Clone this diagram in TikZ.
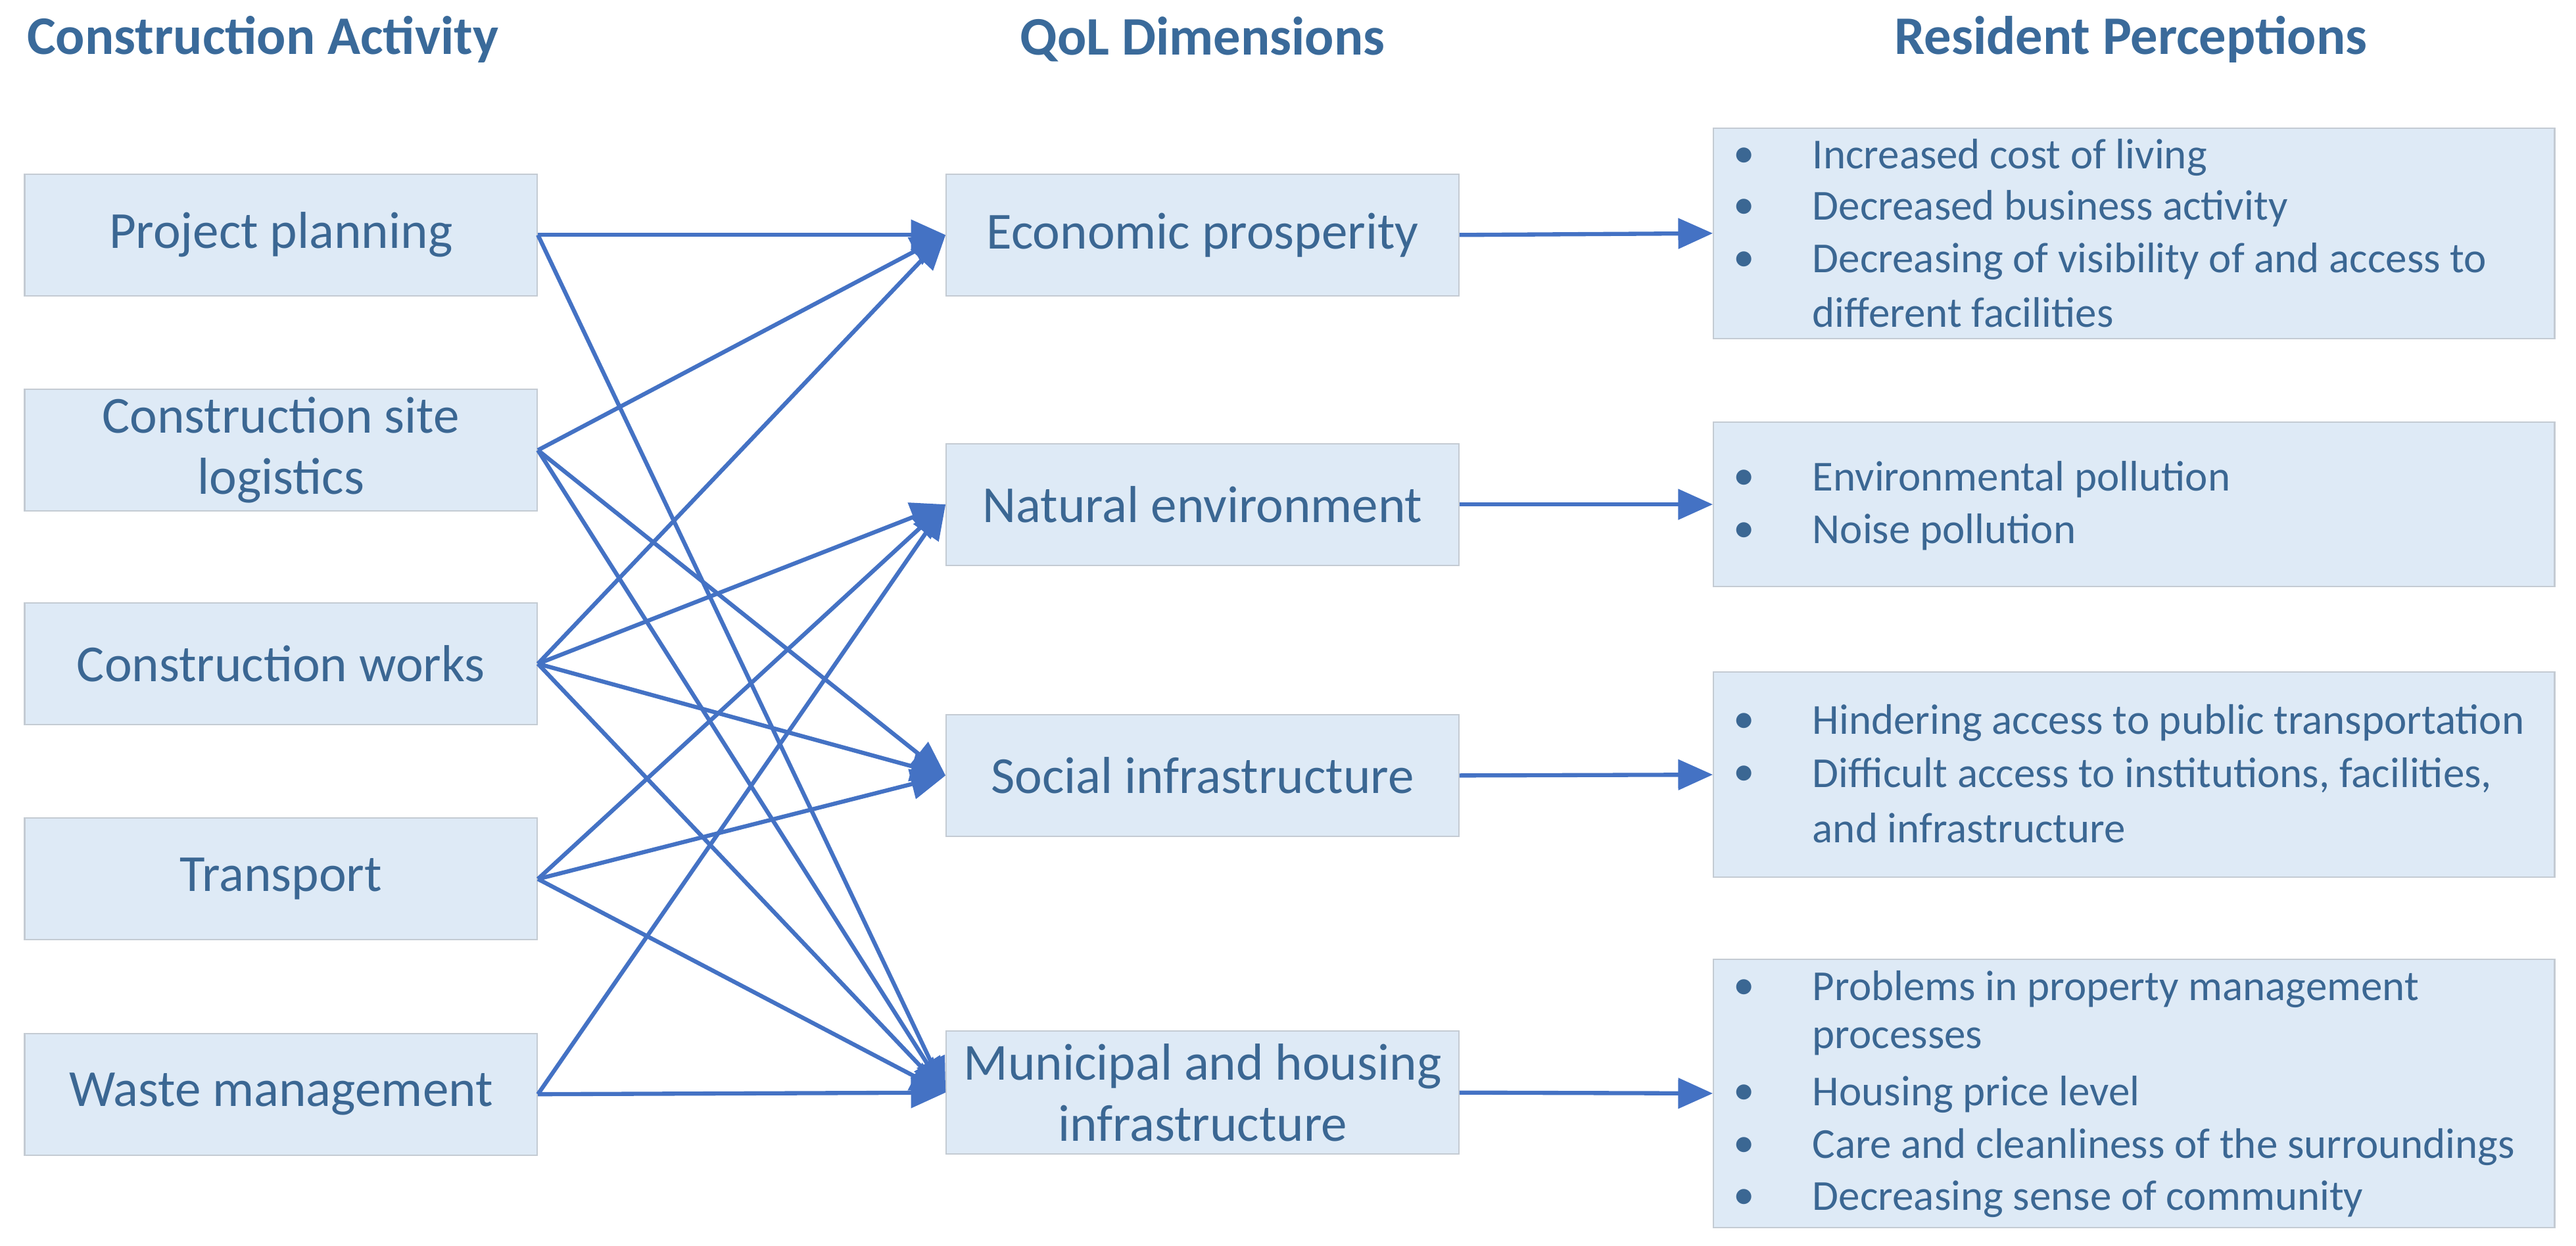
\documentclass[tikz,border=0pt]{standalone}
\usepackage{fontspec}
\setmainfont{Carlito}
\usetikzlibrary{arrows.meta}
\definecolor{boxfill}{HTML}{DEEAF6}
\definecolor{boxline}{HTML}{C4CBD3}
\definecolor{txt}{HTML}{3B6793}
\definecolor{ttl}{HTML}{3A6A9A}
\definecolor{ln}{HTML}{4472C4}
\tikzset{
  box/.style={draw=boxline, line width=0.6pt, fill=boxfill, text=txt, font=\fontsize{22.5}{26.5}\selectfont, align=center, inner sep=0pt},
  ttlnode/.style={text=ttl, font=\fontsize{23.5}{26}\selectfont\bfseries},
  bl/.style={anchor=west, text=txt, font=\fontsize{18.5}{21}\selectfont, inner sep=0pt},
  conn/.style={draw=ln, line width=1.8pt, -{Triangle[length=15pt,width=13pt]}}
}
\begin{document}
\begin{tikzpicture}[x=0.025cm,y=-0.025cm]
\useasboundingbox (0,0) rectangle (1568,758);
% titles
\node[ttlnode] (t1) at (160,24) {Construction Activity};
\node[ttlnode] (t2) at (732,24) {QoL Dimensions};
\node[ttlnode] (t3) at (1297,24) {Resident Perceptions};
% left boxes
\newcommand{\lbox}[4]{\node[box, minimum width=312*0.025cm, minimum height=(#3)*0.025cm] (#1) at (171,#2) {#4};}
\lbox{pp}{143}{74}{Project planning}
\lbox{cs}{274}{74}{Construction site\\logistics}
\lbox{cw}{404}{74}{Construction works}
\lbox{tr}{535}{74}{Transport}
\lbox{wm}{666}{74}{Waste management}
% middle boxes
\newcommand{\midbox}[4]{\node[box, minimum width=312*0.025cm, minimum height=(#3)*0.025cm] (#1) at (732,#2) {#4};}
\midbox{ep}{143}{74}{Economic prosperity}
\midbox{ne}{307}{74}{Natural environment}
\midbox{si}{472}{74}{Social infrastructure}
\midbox{mh}{665}{75}{Municipal and housing\\infrastructure}
% right boxes
\node[box, minimum width=512*0.025cm, minimum height=128*0.025cm] (r1) at (1299,142) {};
\node[box, minimum width=512*0.025cm, minimum height=100*0.025cm] (r2) at (1299,307) {};
\node[box, minimum width=512*0.025cm, minimum height=125*0.025cm] (r3) at (1299,471.5) {};
\node[box, minimum width=512*0.025cm, minimum height=163*0.025cm] (r4) at (1299,665.5) {};
% bullet texts
\newcommand{\bul}[3]{\node[bl] (b#1) at (1055,#2) {\textbullet}; \node[bl] (l#1) at (1103,#2) {#3};}
\newcommand{\cont}[3]{\node[bl] (l#1) at (1103,#2) {#3};}
\bul{a}{96}{Increased cost of living}
\bul{b}{127}{Decreased business activity}
\bul{c}{159}{Decreasing of visibility of and access to}
\cont{d}{190}{different facilities}
\bul{e}{292}{Environmental pollution}
\bul{f}{324}{Noise pollution}
\bul{g}{440}{Hindering access to public transportation}
\bul{h}{472}{Difficult access to institutions, facilities,}
\cont{i}{504}{and infrastructure}
\bul{j}{602}{Problems in property management}
\cont{k}{634}{processes}
\bul{l}{666}{Housing price level}
\bul{m}{698}{Care and cleanliness of the surroundings}
\bul{n}{730}{Decreasing sense of community}
% connectors left -> middle
\foreach \a/\b in {pp/ep, pp/mh, cs/ep, cs/si, cs/mh, cw/ep, cw/ne, cw/si, cw/mh, tr/ne, tr/si, tr/mh, wm/ne, wm/mh}
  \draw[conn] (\a.east) -- (\b.west);
% middle -> right
\draw[conn] (ep.east) -- (r1.west);
\draw[conn] (ne.east) -- (r2.west);
\draw[conn] (si.east) -- (r3.west);
\draw[conn] (mh.east) -- (r4.west);
\end{tikzpicture}
\end{document}
